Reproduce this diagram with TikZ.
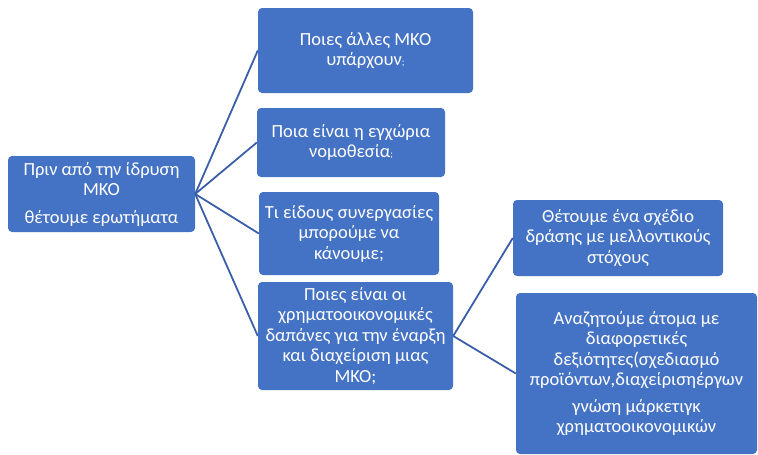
\documentclass[tikz,border=0pt]{standalone}
\usepackage{fontspec}
\setmainfont{Carlito}
\definecolor{boxblue}{HTML}{4472C4}
\definecolor{lineblue}{HTML}{3A5FA8}
\newcommand{\smq}{{\fontsize{10}{10}\selectfont;}}

\begin{document}
\begin{tikzpicture}[x=1pt,y=-1pt,
  qbox/.style={fill=boxblue, rounded corners=4pt, text=white, align=center,
    inner sep=0pt, font=\fontsize{18.5}{20.5}\selectfont},
  link/.style={draw=lineblue, line width=1.8pt}]
\useasboundingbox (0,0) rectangle (758,455);
% left question box
\node[qbox, minimum width=187pt, minimum height=76pt] (root) at (101.5,194)
  {Πριν από την ίδρυση\\ΜΚΟ\\[7pt]θέτουμε ερωτήματα};
% questions
\node[qbox, minimum width=215pt, minimum height=85pt] (b1) at (365.5,50.5)
  {Ποιες άλλες ΜΚΟ\\υπάρχουν\smq};
\node[qbox, minimum width=188pt, minimum height=69pt] (b2) at (351,142.5)
  {Ποια είναι η εγχώρια\\νομοθεσία\smq};
\node[qbox, minimum width=180pt, minimum height=83pt] (b3) at (349,233.5)
  {Τι είδους συνεργασίες\\μπορούμε να\\κάνουμε;};
\node[qbox, minimum width=195pt, minimum height=108pt] (b4) at (355.5,336)
  {Ποιες είναι οι\\χρηματοοικονομικές\\δαπάνες για την έναρξη\\και διαχείριση μιας\\ΜΚΟ;};
% next steps
\node[qbox, minimum width=210pt, minimum height=76pt] (b5) at (618,238)
  {Θέτουμε ένα σχέδιο\\δράσης με μελλοντικούς\\στόχους};
\node[qbox, minimum width=241pt, minimum height=161pt] (b6) at (636.5,373.5)
  {Αναζητούμε άτομα με\\διαφορετικές\\δεξιότητες(σχεδιασμό\\προϊόντων,διαχείρισηέργων\\[6pt]γνώση μάρκετιγκ\\χρηματοοικονομικών};
% connectors
\foreach \b in {b1,b2,b3,b4} {
\draw[link] (root.east) -- (\b.west);
}
\foreach \b in {b5,b6} {
\draw[link] (b4.east) -- (\b.west);
}
\end{tikzpicture}
\end{document}
